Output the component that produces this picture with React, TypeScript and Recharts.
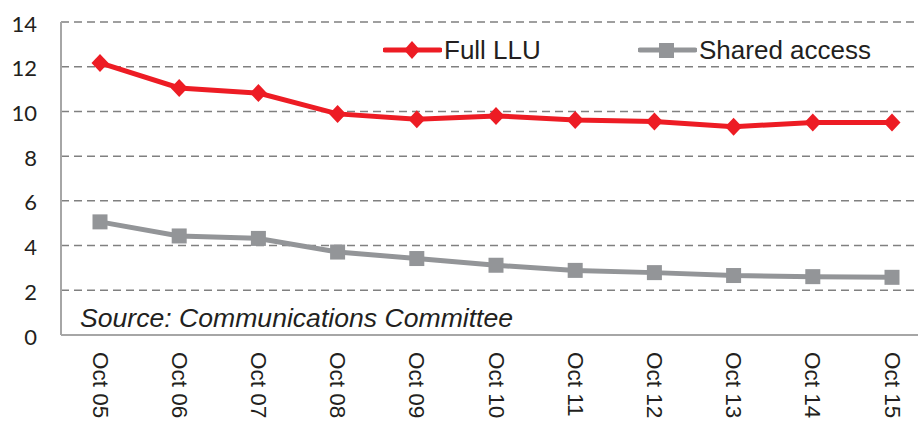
import { CartesianGrid, Line, LineChart, XAxis, YAxis } from 'recharts';

const months = ['Oct 05', 'Oct 06', 'Oct 07', 'Oct 08', 'Oct 09', 'Oct 10', 'Oct 11', 'Oct 12', 'Oct 13', 'Oct 14', 'Oct 15'];
const fullLlu = [12.17, 11.05, 10.82, 9.89, 9.65, 9.8, 9.62, 9.55, 9.32, 9.5, 9.5];
const sharedAccess = [5.06, 4.43, 4.32, 3.71, 3.42, 3.12, 2.89, 2.79, 2.66, 2.61, 2.58];
const yTicks = [0, 2, 4, 6, 8, 10, 12, 14];

const RED = '#ED1C24';
const GREY = '#939598';
const TEXT = '#231F20';

const data = months.map((m, i) => ({ month: m, full: fullLlu[i], shared: sharedAccess[i] }));

function Diamond({ cx, cy }: { cx?: number; cy?: number }) {
  if (cx == null || cy == null) return null;
  return <path d={`M${cx},${cy - 9} L${cx + 8.5},${cy} L${cx},${cy + 9} L${cx - 8.5},${cy} Z`} fill={RED} />;
}

function Square({ cx, cy }: { cx?: number; cy?: number }) {
  if (cx == null || cy == null) return null;
  return <rect x={cx - 7.5} y={cy - 7.5} width={15} height={15} fill={GREY} />;
}

// axis line sits at y=335, labels start at ~352
function MonthTick({ x, payload }: { x?: number; payload?: { value: string } }) {
  return (
    <text
      transform={`translate(${x},352) rotate(90)`}
      textAnchor="start"
      dominantBaseline="central"
      fontFamily="'Liberation Sans', Arial, sans-serif"
      fontSize={22.5}
      fill={TEXT}
    >
      {payload?.value}
    </text>
  );
}

function ValueTick({ y, payload }: { y?: number; payload?: { value: number } }) {
  return (
    <text x={37} y={(y ?? 0) + 1} textAnchor="end" dominantBaseline="central" fontFamily="Lato, sans-serif" fontSize={22} fill={TEXT}>
      {payload?.value}
    </text>
  );
}

function LegendItem({ color, label, square, left }: { color: string; label: string; square?: boolean; left: number }) {
  return (
    <div style={{ position: 'absolute', left, top: 35, display: 'flex', alignItems: 'center' }}>
      <svg width={59} height={22}>
        <line x1={2} y1={11} x2={57} y2={11} stroke={color} strokeWidth={5} strokeLinecap="round" />
        {square ? (
          <rect x={21} y={4} width={15} height={15} fill={color} />
        ) : (
          <path d="M29,2 L37,11 L29,20 L21,11 Z" fill={color} />
        )}
      </svg>
      <span style={{ fontFamily: "'Liberation Sans', Arial, sans-serif", fontSize: 26, color: TEXT, marginLeft: 2, lineHeight: '30px' }}>
        {label}
      </span>
    </div>
  );
}

export default function App() {
  return (
    <div style={{ position: 'absolute', left: 0, top: 0, width: 918, height: 423, background: '#fff', overflow: 'hidden' }}>
      <LineChart width={918} height={423} data={data} margin={{ top: 22, right: 0, left: 0, bottom: 0 }}>
        <CartesianGrid vertical={false} stroke="#808080" strokeWidth={1.5} strokeDasharray="8 5" />
        <XAxis
          dataKey="month"
          scale="point"
          padding={{ left: 39, right: 26 }}
          height={88}
          axisLine={{ stroke: '#A6A6A6', strokeWidth: 2 }}
          tickLine={false}
          interval={0}
          tick={<MonthTick />}
        />
        <YAxis
          domain={[0, 14]}
          ticks={yTicks}
          width={61}
          axisLine={{ stroke: '#A6A6A6', strokeWidth: 2 }}
          tickLine={false}
          tick={<ValueTick />}
        />
        <Line dataKey="full" name="Full LLU" stroke={RED} strokeWidth={5} dot={<Diamond />} activeDot={false} isAnimationActive={false} />
        <Line dataKey="shared" name="Shared access" stroke={GREY} strokeWidth={5} dot={<Square />} activeDot={false} isAnimationActive={false} />
      </LineChart>
      <LegendItem color={RED} label="Full LLU" left={383} />
      <LegendItem color={GREY} label="Shared access" left={638} square />
      <div
        style={{
          position: 'absolute',
          left: 80,
          top: 303,
          fontFamily: "'Liberation Sans', Arial, sans-serif",
          fontStyle: 'italic',
          fontSize: 26.6,
          color: TEXT,
          lineHeight: '30px',
        }}
      >
        Source: Communications Committee
      </div>
    </div>
  );
}
